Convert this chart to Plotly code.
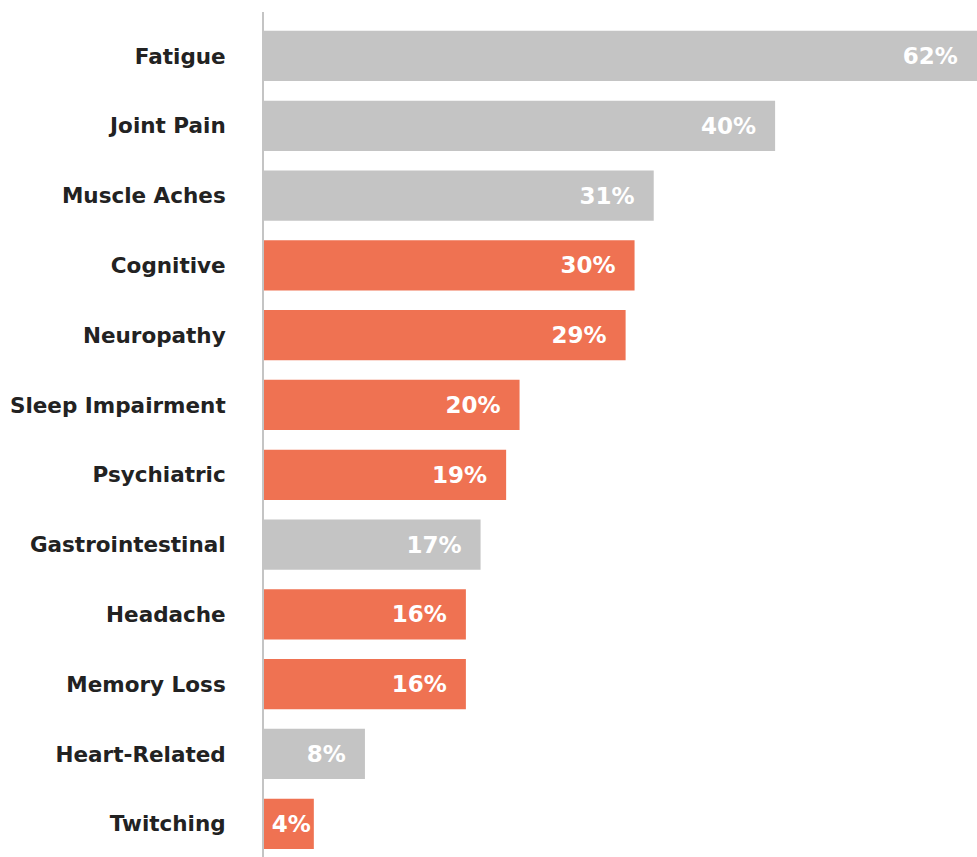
import plotly.graph_objects as go

categories = ["Fatigue", "Joint Pain", "Muscle Aches", "Cognitive", "Neuropathy",
              "Sleep Impairment", "Psychiatric", "Gastrointestinal", "Headache",
              "Memory Loss", "Heart-Related", "Twitching"]
# printed percentages
percent_labels = [62, 40, 31, 30, 29, 20, 19, 17, 16, 16, 8, 4]
# bar lengths as drawn in the reference (they do not follow the labels exactly)
bar_lengths = [62, 40.0, 30.5, 29.0, 28.3, 20.0, 18.95, 16.95, 15.8, 15.8, 7.9, 3.9]
highlight = [False, False, False, True, True, True, True, False, True, True, False, True]

GRAY = "#c4c4c4"
ORANGE = "#ef7252"
X_MAX = 55.8  # visible axis range; the longest bar runs past the edge

colors = [ORANGE if h else GRAY for h in highlight]
pad = lambda v: "\u2002\u2009" if v >= 8 else ""
labels = [f"{v}%{pad(v)}" for v in percent_labels]
label_anchor = [min(v, X_MAX) for v in bar_lengths]

fig = go.Figure()
fig.add_trace(go.Bar(
    x=bar_lengths, y=categories, orientation="h",
    marker=dict(color=colors, line=dict(width=0)),
    width=0.72, hoverinfo="skip", cliponaxis=True,
))
fig.add_trace(go.Bar(
    x=label_anchor, y=categories, orientation="h",
    marker=dict(color="rgba(0,0,0,0)", line=dict(width=0)),
    width=0.72,
    text=labels, textposition="inside", insidetextanchor="end",
    textfont=dict(family="DejaVu Sans", size=23, color="white", weight="bold"),
    customdata=percent_labels, hovertemplate="%{y}: %{customdata}%<extra></extra>",
))

fig.update_layout(
    width=977, height=857,
    barmode="overlay",
    margin=dict(l=264, r=0, t=12, b=0),
    plot_bgcolor="white", paper_bgcolor="white",
    showlegend=False,
    xaxis=dict(range=[0, X_MAX], visible=False, fixedrange=True),
    yaxis=dict(categoryorder="array", categoryarray=categories,
               range=[11.476, -0.63], showgrid=False, zeroline=False,
               showline=True, linecolor="#c4c4c4", linewidth=2,
               ticks="", ticklabelstandoff=32, fixedrange=True,
               tickfont=dict(family="DejaVu Sans", size=21.5, color="#222222", weight="bold")),
    uniformtext=dict(mode=False),
)

fig.write_html("out.html", config={"displayModeBar": False},
               post_script="document.body.style.margin='0';")
